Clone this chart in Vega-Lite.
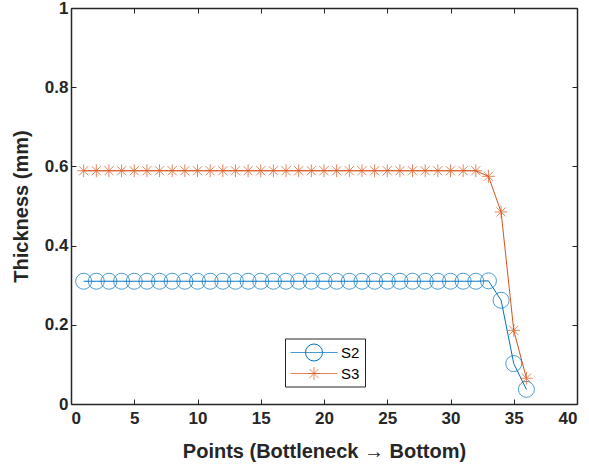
{
  "$schema": "https://vega.github.io/schema/vega-lite/v6.json",
  "width": 506,
  "height": 396,
  "autosize": {"type": "none"},
  "padding": {"left": 71, "top": 8, "right": 12, "bottom": 64},
  "background": "white",
  "config": {
    "view": {"stroke": null},
    "font": "Liberation Sans",
    "axis": {
      "grid": false,
      "domainColor": "#262626",
      "domainWidth": 1.5,
      "tickColor": "#262626",
      "tickWidth": 1,
      "tickSize": -5,
      "labelFont": "Liberation Sans",
      "labelFontWeight": "bold",
      "labelFontSize": 17,
      "labelColor": "#262626",
      "titleFont": "Liberation Sans",
      "titleFontWeight": "bold",
      "titleFontSize": 20,
      "titleColor": "#262626"
    },
    "legend": {"title": null, "labelFont": "Liberation Sans", "labelColor": "#000000", "orient": "none"}
  },
  "data": {
    "values": [
      {"series": "S2", "x": 1, "y": 0.31}, {"series": "S2", "x": 2, "y": 0.31}, {"series": "S2", "x": 3, "y": 0.31},
      {"series": "S2", "x": 4, "y": 0.31}, {"series": "S2", "x": 5, "y": 0.31}, {"series": "S2", "x": 6, "y": 0.31},
      {"series": "S2", "x": 7, "y": 0.31}, {"series": "S2", "x": 8, "y": 0.31}, {"series": "S2", "x": 9, "y": 0.31},
      {"series": "S2", "x": 10, "y": 0.31}, {"series": "S2", "x": 11, "y": 0.31}, {"series": "S2", "x": 12, "y": 0.31},
      {"series": "S2", "x": 13, "y": 0.31}, {"series": "S2", "x": 14, "y": 0.31}, {"series": "S2", "x": 15, "y": 0.31},
      {"series": "S2", "x": 16, "y": 0.31}, {"series": "S2", "x": 17, "y": 0.31}, {"series": "S2", "x": 18, "y": 0.31},
      {"series": "S2", "x": 19, "y": 0.31}, {"series": "S2", "x": 20, "y": 0.31}, {"series": "S2", "x": 21, "y": 0.31},
      {"series": "S2", "x": 22, "y": 0.31}, {"series": "S2", "x": 23, "y": 0.31}, {"series": "S2", "x": 24, "y": 0.31},
      {"series": "S2", "x": 25, "y": 0.31}, {"series": "S2", "x": 26, "y": 0.31}, {"series": "S2", "x": 27, "y": 0.31},
      {"series": "S2", "x": 28, "y": 0.31}, {"series": "S2", "x": 29, "y": 0.31}, {"series": "S2", "x": 30, "y": 0.31},
      {"series": "S2", "x": 31, "y": 0.31}, {"series": "S2", "x": 32, "y": 0.31}, {"series": "S2", "x": 33, "y": 0.311},
      {"series": "S2", "x": 34, "y": 0.262}, {"series": "S2", "x": 35, "y": 0.102}, {"series": "S2", "x": 36, "y": 0.037},
      {"series": "S3", "x": 1, "y": 0.589}, {"series": "S3", "x": 2, "y": 0.589}, {"series": "S3", "x": 3, "y": 0.589},
      {"series": "S3", "x": 4, "y": 0.589}, {"series": "S3", "x": 5, "y": 0.589}, {"series": "S3", "x": 6, "y": 0.589},
      {"series": "S3", "x": 7, "y": 0.589}, {"series": "S3", "x": 8, "y": 0.589}, {"series": "S3", "x": 9, "y": 0.589},
      {"series": "S3", "x": 10, "y": 0.589}, {"series": "S3", "x": 11, "y": 0.589}, {"series": "S3", "x": 12, "y": 0.589},
      {"series": "S3", "x": 13, "y": 0.589}, {"series": "S3", "x": 14, "y": 0.589}, {"series": "S3", "x": 15, "y": 0.589},
      {"series": "S3", "x": 16, "y": 0.589}, {"series": "S3", "x": 17, "y": 0.589}, {"series": "S3", "x": 18, "y": 0.589},
      {"series": "S3", "x": 19, "y": 0.589}, {"series": "S3", "x": 20, "y": 0.589}, {"series": "S3", "x": 21, "y": 0.589},
      {"series": "S3", "x": 22, "y": 0.589}, {"series": "S3", "x": 23, "y": 0.589}, {"series": "S3", "x": 24, "y": 0.589},
      {"series": "S3", "x": 25, "y": 0.589}, {"series": "S3", "x": 26, "y": 0.589}, {"series": "S3", "x": 27, "y": 0.589},
      {"series": "S3", "x": 28, "y": 0.589}, {"series": "S3", "x": 29, "y": 0.589}, {"series": "S3", "x": 30, "y": 0.589},
      {"series": "S3", "x": 31, "y": 0.589}, {"series": "S3", "x": 32, "y": 0.589}, {"series": "S3", "x": 33, "y": 0.575},
      {"series": "S3", "x": 34, "y": 0.485}, {"series": "S3", "x": 35, "y": 0.186}, {"series": "S3", "x": 36, "y": 0.065}
    ]
  },
  "layer": [
    {
      "mark": {"type": "line", "strokeWidth": 1},
      "encoding": {
        "x": {"field": "x", "type": "quantitative", "scale": {"domain": [0, 40], "nice": false},
              "axis": {"orient": "bottom", "values": [0, 5, 10, 15, 20, 25, 30, 35, 40], "title": "Points (Bottleneck  \u2192 Bottom)", "labelPadding": 11, "titleY": 37}},
        "y": {"field": "y", "type": "quantitative", "scale": {"domain": [0, 1], "nice": false},
              "axis": {"orient": "left", "values": [0, 0.2, 0.4, 0.6, 0.8, 1], "format": ".1~f", "title": "Thickness (mm)", "labelPadding": 8, "titleX": -40, "titleY": 198}},
        "color": {"field": "series", "type": "nominal",
                  "scale": {"domain": ["S2", "S3"], "range": ["#0072BD", "#D95319"]},
                  "legend": {
                    "legendX": 214, "legendY": 330.5,
                    "strokeColor": "#262626", "fillColor": "white", "padding": 5,
                    "labelFontSize": 15, "labelOffset": 33, "rowPadding": 4,
                    "symbolType": "M-1,0L4.53,0", "symbolSize": 289, "symbolStrokeWidth": 1
                  }}
      }
    },
    {
      "mark": {"type": "point", "filled": false, "strokeWidth": 1, "size": 256},
      "encoding": {
        "x": {"field": "x", "type": "quantitative", "axis": {"orient": "top", "values": [0, 5, 10, 15, 20, 25, 30, 35, 40], "labels": false, "title": null}},
        "y": {"field": "y", "type": "quantitative", "axis": {"orient": "right", "values": [0, 0.2, 0.4, 0.6, 0.8, 1], "labels": false, "title": null}},
        "color": {"field": "series", "type": "nominal"},
        "shape": {"field": "series", "type": "nominal",
                  "scale": {"domain": ["S3", "S2"], "range": ["M-0.8,0L0.8,0M0,-0.8L0,0.8M-0.57,-0.57L0.57,0.57M-0.57,0.57L0.57,-0.57", "circle"]},
                  "legend": {
                    "values": ["S3"], "legendX": 234.5, "legendY": 357, "padding": 0,
                    "labelFontSize": 10, "labelOpacity": 0, "labelExpr": "''",
                    "symbolSize": 256, "symbolStrokeWidth": 1, "symbolStrokeColor": "#D95319", "symbolFillColor": "transparent"
                  }}
      }
    },
    {
      "mark": {"type": "point", "filled": false, "opacity": 0},
      "encoding": {
        "x": {"field": "x", "type": "quantitative", "axis": null},
        "y": {"field": "y", "type": "quantitative", "axis": null},
        "stroke": {"field": "series", "type": "nominal",
                   "scale": {"range": ["#0072BD", "#D95319"]},
                   "legend": {
                     "values": ["S2"], "legendX": 234, "legendY": 335.5, "padding": 0,
                     "labelFontSize": 10, "labelOpacity": 0, "labelExpr": "''",
                     "symbolType": "circle", "symbolSize": 289, "symbolStrokeWidth": 1,
                     "symbolFillColor": "transparent", "symbolOpacity": 1
                   }}
      }
    }
  ],
  "resolve": {"axis": {"x": "independent", "y": "independent"}}
}
